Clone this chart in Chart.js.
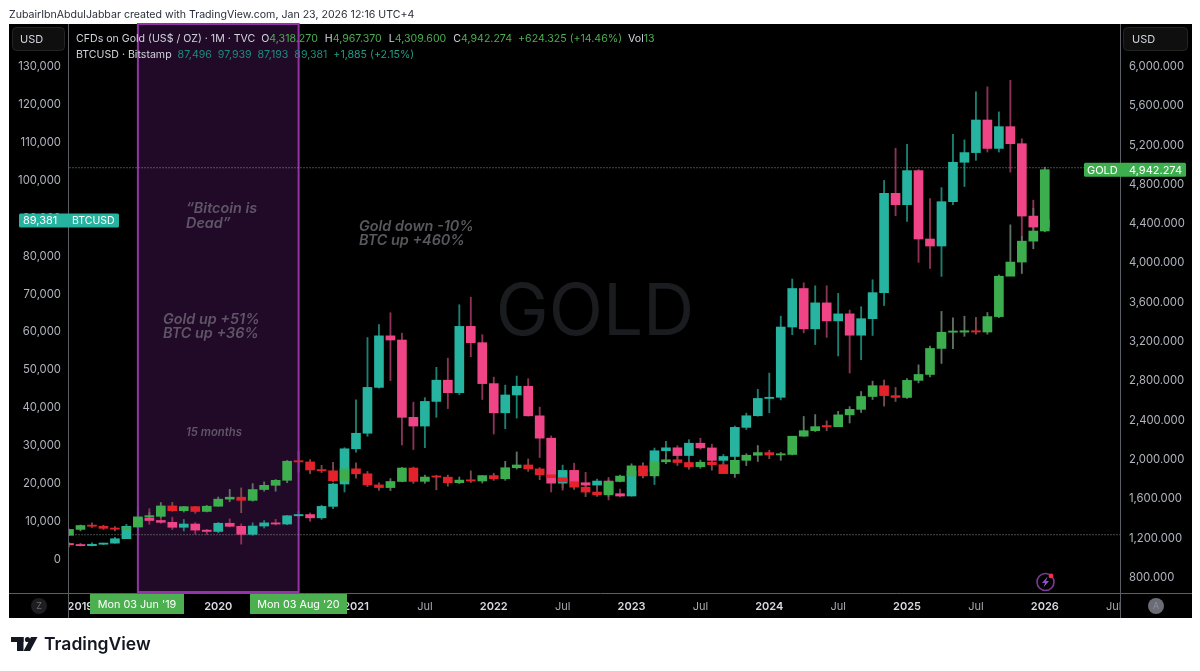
<!DOCTYPE html>
<html><head><meta charset="utf-8">
<style>html,body{margin:0;padding:0;background:#fff}canvas{display:block}</style>
<script src="https://cdn.jsdelivr.net/npm/chart.js@4"></script>
</head><body><canvas id="c" width="1200" height="671"></canvas>
<script>
// Monthly candles, index 0 = Dec 2018, index 85 = Jan 2026
const goldOpen=[1221,1281,1321,1313,1292,1283,1305,1409,1414,1520,1472,1513,1464,1517,1589,1609,1577,1687,1730,1781,1975,1968,1886,1878,1777,1898,1847,1734,1707,1769,1906,1770,1814,1813,1757,1783,1774,1829,1797,1909,1937,1897,1837,1807,1766,1711,1661,1633,1769,1824,1928,1826,1969,1990,1962,1919,1965,1940,1849,1984,2036,2063,2039,2044,2230,2286,2327,2326,2447,2503,2634,2744,2643,2624,2798,2858,3123,3288,3289,3303,3290,3447,3858,4002,4215,4318.27];
const goldHigh=[1285,1326,1347,1324,1310,1306,1439,1453,1555,1557,1516,1516,1526,1611,1689,1704,1747,1765,1789,1984,2075,1992,1933,1965,1906,1959,1871,1755,1798,1912,1916,1834,1832,1834,1814,1877,1829,1853,1974,2070,1998,1910,1879,1814,1808,1735,1730,1786,1833,1949,1960,2010,2048,2079,1983,1987,1980,1953,2009,2052,2135,2088,2065,2222,2431,2450,2387,2483,2531,2685,2790,2801,2726,2817,2956,3148,3500,3435,3451,3439,3489,3871,4381,4265,4550,4967.37];
const goldLow=[1221,1266,1302,1281,1266,1266,1296,1382,1400,1465,1458,1445,1459,1517,1563,1451,1568,1670,1670,1757,1863,1849,1860,1764,1775,1802,1717,1677,1677,1765,1750,1750,1684,1721,1746,1758,1753,1780,1781,1895,1872,1787,1785,1681,1688,1615,1617,1616,1765,1805,1804,1810,1950,1932,1893,1903,1884,1848,1810,1931,1973,2001,1984,2039,2228,2277,2286,2353,2364,2471,2603,2536,2583,2614,2772,2832,2970,3120,3247,3268,3268,3436,3886,3886,4137,4309.6];
const goldClose=[1281,1321,1313,1292,1283,1305,1409,1414,1520,1472,1513,1464,1517,1589,1609,1577,1687,1730,1781,1975,1968,1886,1878,1777,1898,1847,1734,1707,1769,1906,1770,1814,1813,1757,1783,1774,1829,1797,1909,1937,1897,1837,1807,1766,1711,1661,1633,1769,1824,1928,1826,1969,1990,1962,1919,1965,1940,1849,1984,2036,2063,2039,2044,2230,2286,2327,2326,2447,2503,2634,2744,2643,2624,2798,2858,3123,3288,3289,3303,3290,3447,3858,4002,4215,4318,4942.274];
const btcOpen=[4020,3690,3430,3810,4100,5270,8550,10750,10080,9600,8290,9150,7540,7190,9350,8540,6420,8620,9450,9140,11330,11650,10780,13800,19700,29000,33100,45200,58800,57700,37300,35000,41500,47100,43800,61300,57000,46200,38500,43200,45500,37700,31800,19930,23300,20050,19420,20490,17160,16540,23130,23140,28480,29260,27220,30470,29230,25940,26970,34650,37720,42280,42580,61130,71290,60650,67500,62750,64600,58970,63330,70200,96400,93400,102400,84350,82500,94200,104600,107150,115750,108250,114000,109500,90400,87496];
const btcHigh=[4230,4070,4200,4120,5640,9080,13880,13200,12320,10950,10350,9530,7740,9570,10500,9190,9460,10070,10380,11430,12470,12070,14100,19870,29300,41950,58350,61800,64900,59500,41300,42500,50500,52900,67000,69000,59100,47900,45800,48200,47500,40000,32400,24700,25200,22800,21000,21450,18400,23300,25250,29200,31000,29800,31400,31800,30200,27500,35000,38400,44700,48970,64000,73800,72800,72000,72000,70000,65600,66500,73600,99800,108300,109350,102700,95000,97900,112000,110500,123200,124500,117900,126200,110800,94600,97939];
const btcLow=[3122,3350,3380,3700,4080,5350,7450,9080,9320,7700,7300,6500,6430,6850,8400,3850,6150,8100,8900,8960,11000,9880,10370,13200,17600,28130,32300,45000,47000,30000,28800,29300,37300,39600,43300,53300,42000,32900,34300,37100,37600,26700,17600,18700,19550,18100,18200,15500,16300,16500,21400,19570,26940,25870,24800,28860,25300,24900,26550,34100,37600,38500,41900,59100,59600,56500,58400,53500,49000,52500,58900,66800,90500,89000,78200,76600,74500,93400,98200,105100,107300,107300,102000,80600,84400,87193];
const btcClose=[3690,3430,3810,4100,5270,8550,10750,10080,9600,8290,9150,7540,7190,9350,8540,6420,8620,9450,9140,11330,11650,10780,13800,19700,29000,33100,45200,58800,57700,37300,35000,41500,47100,43800,61300,57000,46200,38500,43200,45500,37700,31800,19930,23300,20050,19420,20490,17160,16540,23130,23140,28480,29260,27220,30470,29230,25940,26970,34650,37720,42280,42580,61130,71290,60650,67500,62750,64600,58970,63330,70200,96400,93400,102400,84350,82500,94200,104600,107150,115750,108250,114000,109500,90400,87500,89381];
const leftTicks=[0,10000,20000,30000,40000,50000,60000,70000,80000,90000,100000,110000,120000,130000];
const rightTicks=[800,1200,1600,2000,2400,2800,3200,3600,4000,4400,4800,5200,5600,6000];
const timeTickIndex=[1,7,13,19,25,31,37,43,49,55,61,67,73,79,85,91];
const timeTickLabels=['2019','Jul','2020','Jul','2021','Jul','2022','Jul','2023','Jul','2024','Jul','2025','Jul','2026','Jul'];
const goldLast=4942.274, btcLast=89381, upperLevel=4962, lowerLevel=1227;
const boxStart=6, boxEnd=20; // Jun 2019, Aug 2020

const FONT='Inter, "Noto Sans", sans-serif';
const X=goldOpen.map((_,i)=>i);
const G_UP='#3cae4e',G_DN='#e3222c',B_UP='#26b39f',B_DN='#ef4587';
const G_UPW='#5f7263',G_DNW='#7a4a4c',B_UPW='#1c7f72',B_DNW='#8f3157';
const ser=(a,b)=>X.map(i=>({x:i,y:[a[i],b[i]]}));
const upDn=(o,c,u,d)=>X.map(i=>c[i]>=o[i]?u:d);
const body=(o,c,u,d)=>({type:'bar',data:ser(o,c),backgroundColor:upDn(o,c,u,d),barThickness:9,minBarLength:1.2,grouped:false,borderWidth:0});
const wick=(l,h,o,c,u,d,ax)=>({type:'bar',data:ser(l,h),backgroundColor:upDn(o,c,u,d),barThickness:1.2,grouped:false,borderWidth:0,yAxisID:ax});
const level=(v,col)=>({type:'line',data:[{x:-1,y:v},{x:92,y:v}],yAxisID:'yR',borderColor:col,borderWidth:1,borderDash:[1,2],pointRadius:0,fill:false});

const gBody=Object.assign(body(goldOpen,goldClose,G_UP,G_DN),{yAxisID:'yR'});
const bBody=Object.assign(body(btcOpen,btcClose,B_UP,B_DN),{yAxisID:'yL'});
const datasets=[gBody,bBody,level(upperLevel,'#7fa285'),level(lowerLevel,'#8a958b'),
  wick(goldLow,goldHigh,goldOpen,goldClose,G_UPW,G_DNW,'yR'),
  wick(btcLow,btcHigh,btcOpen,btcClose,B_UPW,B_DNW,'yL')];
const BOX_AFTER=4;
const isJul=ctx=>!ctx.tick||timeTickLabels[timeTickIndex.indexOf(ctx.tick.value)]==='Jul';

function runs(ctx,x,y,parts,font){ctx.font=font;ctx.textAlign='left';ctx.textBaseline='middle';
  for(const [t,c,gap] of parts){ctx.fillStyle=c;ctx.fillText(t,x,y);x+=ctx.measureText(t).width+(gap||0);}}
function rr(ctx,x,y,w,h,r,fill,stroke){ctx.beginPath();ctx.roundRect(x,y,w,h,r);if(fill){ctx.fillStyle=fill;ctx.fill();}if(stroke){ctx.strokeStyle=stroke;ctx.lineWidth=1;ctx.stroke();}}
function txt(ctx,t,x,y,font,col,al){ctx.font=font;ctx.fillStyle=col;ctx.textAlign=al||'left';ctx.textBaseline='middle';ctx.fillText(t,x,y);}

const frame={id:'frame',
 beforeDraw(ch){const c=ch.ctx;c.save();c.fillStyle='#fff';c.fillRect(0,0,1200,671);c.fillStyle='#000';c.fillRect(9,24,1183,594);
   txt(c,'ZubairIbnAbdulJabbar created with TradingView.com, Jan 23, 2026 12:16 UTC+4',9,15,'10.6px '+FONT,'#2a2e39');
   // footer logo
   c.fillStyle='#131722';c.fillRect(11,637,12.5,5);c.fillRect(17,637,6.5,14);
   c.beginPath();c.arc(27.5,639.5,2.6,0,7);c.fill();
   c.beginPath();c.moveTo(31,637);c.lineTo(37.5,637);c.lineTo(30,651);c.lineTo(23.5,651);c.closePath();c.fill();
   txt(c,'TradingView',44,645,'600 17.5px '+FONT,'#131722');
   c.restore();},
 beforeDatasetsDraw(ch){const c=ch.ctx,a=ch.chartArea,x0=ch.scales.x.getPixelForValue(boxStart),x1=ch.scales.x.getPixelForValue(boxEnd);c.save();
   txt(c,'GOLD',(a.left+a.right)/2+1,313.5,'400 71px '+FONT,'#1b1c20','center');
   c.fillStyle='#210a27';c.fillRect(x0,a.top,x1-x0,a.bottom-a.top);c.restore();},
 afterDatasetDraw(ch,args){ if(args.index!==BOX_AFTER) return;
   const c=ch.ctx,a=ch.chartArea,x0=ch.scales.x.getPixelForValue(boxStart),x1=ch.scales.x.getPixelForValue(boxEnd);
   c.save();c.strokeStyle='#9433a8';c.lineWidth=2;c.strokeRect(x0,a.top,x1-x0,a.bottom-a.top-1);c.restore();},
 afterDraw(ch){const c=ch.ctx,a=ch.chartArea,L=a.left,R=a.right,B=a.bottom;c.save();
   // annotations
   const ann='italic 600 14.4px '+FONT, inBox='#5f5566', out='#58585e';
   txt(c,'“Bitcoin is',186,208.5,ann,inBox);txt(c,'Dead”',186,223.5,ann,inBox);
   txt(c,'Gold up +51%',163,319.5,ann,inBox);txt(c,'BTC up +36%',163,333.5,ann,inBox);
   txt(c,'15 months',186,432.5,'italic 600 11.3px '+FONT,inBox);
   txt(c,'Gold down -10%',359,227,ann,out);txt(c,'BTC up +460%',359,241,ann,out);
   // legend
   const lab='#d1d4dc',gv='#4caf50',bv='#1f8a80',bc='#1f9e88';
   const lf='10.6px '+FONT;
   runs(c,76,38.5,[['CFDs on Gold (US$ / OZ) · 1M · TVC',lab,6],['O',lab],['4,318.270',gv,7],['H',lab],['4,967.370',gv,7],['L',lab],['4,309.600',gv,7],['C',lab],['4,942.274',gv,6],['+624.325 (+14.46%)',gv,6],['Vol',lab],['13',gv]],lf);
   runs(c,76,54.5,[['BTCUSD · Bitstamp',lab,6],['87,496',bv,6],['97,939',bv,6],['87,193',bv,6],['89,381',bv,6],['+1,885 (+2.15%)',bc]],lf);
   // axis frame
   c.fillStyle='#000';c.fillRect(R,B,72,25);c.fillRect(9,B,L-9,25);
   c.strokeStyle='#5d5f66';c.lineWidth=1;c.beginPath();
   c.moveTo(L+.5,24);c.lineTo(L+.5,618);c.moveTo(R+.5,24);c.lineTo(R+.5,618);c.moveTo(9,B+.5);c.lineTo(1192,B+.5);c.stroke();
   // currency buttons
   rr(c,12.5,27.5,52,23,4,'#0f0f0f','#242424');txt(c,'USD',20,39.5,'11px '+FONT,'#d1d4dc');
   rr(c,1123.5,27.5,64,23,4,'#0f0f0f','#242424');txt(c,'USD',1132,39.5,'11px '+FONT,'#d1d4dc');
   // corner buttons
   c.fillStyle='#1e1e20';c.beginPath();c.arc(39,606,8,0,7);c.fill();txt(c,'Z',39,606.5,'9px '+FONT,'#6a6d75','center');
   c.beginPath();c.arc(1156,606,8,0,7);c.fill();txt(c,'A',1156,606.5,'9px '+FONT,'#8a8d95','center');
   // price labels
   const yG=ch.scales.yR.getPixelForValue(goldLast),yB=ch.scales.yL.getPixelForValue(btcLast);
   rr(c,1084,yG-7,102,14,1.5,G_UP);
   txt(c,'GOLD',1087,yG+1,'11px '+FONT,'#fff');txt(c,goldLast.toLocaleString('en-US',{minimumFractionDigits:3}),1129,yG+1,'11px '+FONT,'#fff');
   rr(c,19,yB-6.5,100,14,1.5,B_UP);
   txt(c,btcLast.toLocaleString('en-US'),23,yB+1,'11px '+FONT,'#fff');txt(c,'BTCUSD',72,yB+1,'10.5px '+FONT,'#fff');
   // crosshair date labels
   c.fillStyle='#4caf50';c.fillRect(90,594,94,20);c.fillRect(250,594,97,20);
   txt(c,"Mon 03 Jun '19",137,605,'10.8px '+FONT,'#fff','center');
   txt(c,"Mon 03 Aug '20",298.5,605,'10.8px '+FONT,'#fff','center');
   // alert icon
   c.strokeStyle='#7d3a96';c.lineWidth=1.6;c.beginPath();c.arc(1045.5,582,8.5,0,7);c.stroke();
   c.fillStyle='#8e4fd0';c.beginPath();c.moveTo(1047.5,576.5);c.lineTo(1042,583);c.lineTo(1045,583);c.lineTo(1043.5,587.5);c.lineTo(1049,581);c.lineTo(1046,581);c.closePath();c.fill();
   c.fillStyle='#ef3340';c.beginPath();c.arc(1051,576,2.4,0,7);c.fill();
   c.restore();}
};

new Chart(document.getElementById('c'),{
 type:'bar',data:{datasets},plugins:[frame],
 options:{responsive:false,animation:false,events:[],
  layout:{padding:{left:9,right:8,top:24,bottom:53}},
  plugins:{legend:{display:false},tooltip:{enabled:false},title:{display:false}},
  scales:{
   x:{type:'linear',offset:false,min:-0.087,max:91.55,grid:{display:false,tickLength:0},border:{display:false},
      afterBuildTicks(s){s.ticks=timeTickIndex.map(v=>({value:v}));},
      afterFit(s){s.height=25;},
      ticks:{autoSkip:false,maxRotation:0,padding:7,color:ctx=>isJul(ctx)?'#a8abb3':'#d9dbe2',
        font:ctx=>({family:FONT,size:11,weight:isJul(ctx)?'400':'600'}),
        callback:v=>timeTickLabels[timeTickIndex.indexOf(v)]}},
   yL:{type:'linear',position:'left',min:-9050,max:141082,grid:{display:false,tickLength:0},border:{display:false},
      afterBuildTicks(s){s.ticks=leftTicks.map(v=>({value:v}));},
      afterFit(s){s.width=59;},
      ticks:{padding:7,labelOffset:0.8,autoSkip:false,color:'#b2b5be',font:{family:FONT,size:11.3},callback:v=>v.toLocaleString('en-US')}},
   yR:{type:'linear',position:'right',min:634,max:6425,grid:{display:false,tickLength:0},border:{display:false},
      afterBuildTicks(s){s.ticks=rightTicks.map(v=>({value:v}));},
      afterFit(s){s.width=72;},
      ticks:{padding:9,labelOffset:0.8,autoSkip:false,color:'#b2b5be',font:{family:FONT,size:11.3},callback:v=>v.toLocaleString('en-US',{minimumFractionDigits:3})}}
  }}
});
</script></body></html>
